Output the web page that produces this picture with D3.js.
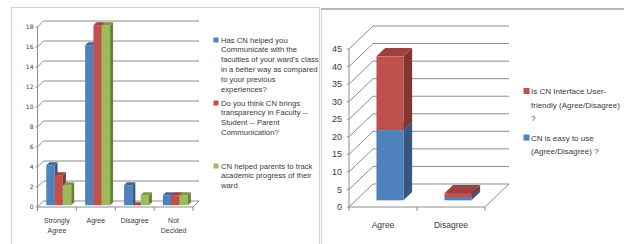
<!DOCTYPE html>
<html>
<head>
<meta charset="utf-8">
<script src="https://cdn.jsdelivr.net/npm/d3@7"></script>
<style>
  body { margin: 0; background: #fff; }
  svg { display: block; }
</style>
</head>
<body>
<div class="wrapper"></div>
<script>
const w = 624
const h = 244

// left chart data
const cats1 = ["Strongly Agree", "Agree", "Disagree", "Not Decided"]
const catLines1 = [["Strongly", "Agree"], ["Agree"], ["Disagree"], ["Not", "Decided"]]
const communicate = [4, 16, 2, 1]
const transparency = [3, 18, 0, 1]
const progress = [2, 18, 1, 1]
const ticks1 = [0, 2, 4, 6, 8, 10, 12, 14, 16, 18]
const legend1 = [
  ["Has CN helped you", "Communicate with the", "faculties of your ward's class", "in a better way as compared", "to your previous", "experiences?"],
  ["Do you think CN brings", "transparency in Faculty --", "Student -- Parent", "Communication?"],
  ["CN helped parents to track", "academic progress of their", "ward"]
]

// right chart data
const cats2 = ["Agree", "Disagree"]
const easyToUse = [20, 1]
const userFriendly = [21, 1]
const ticks2 = [0, 5, 10, 15, 20, 25, 30, 35, 40, 45]
const legend2 = [
  ["Is CN Interface User-", "friendly (Agree/Disagree)", "?"],
  ["CN is easy to use", "(Agree/Disagree) ?"]
]

const colors = ["#4f81bd", "#c0504d", "#9bbb59"]
const gridColor = "#8c8c8c"
const textColor = "#3a3a3a"
const font = "Liberation Sans, Arial, sans-serif"

const svg = d3.select(".wrapper")
  .append("svg")
  .attr("width", w)
  .attr("height", h)

// panel frames
svg.append("rect").attr("x", 11.5).attr("y", 7.5).attr("width", 308).attr("height", 260)
  .attr("fill", "none").attr("stroke", "#d4d4d4")
svg.append("rect").attr("x", 321.5).attr("y", 9).attr("width", 320).attr("height", 260)
  .attr("fill", "none").attr("stroke", "#d4d4d4")
svg.append("line").attr("x1", 321).attr("x2", 624).attr("y1", 9).attr("y2", 9)
  .attr("stroke", "#a6a6a6").attr("stroke-width", 1.5)

// draws walls, floor, ticks for a fake-3D Excel style chart
function drawFrame(g, x, y, ticks, dx, dy, tickFont, tickSize, labelGap) {
  const x0 = x.range()[0], x1 = x.range()[1]
  const y0 = y(0)
  ticks.forEach((t) => {
    const yy = y(t)
    g.append("polyline")
      .attr("points", [[x0, yy], [x0 + dx, yy - dy], [x1 + dx, yy - dy]].join(" "))
      .attr("fill", "none").attr("stroke", gridColor).attr("stroke-width", 1)
    g.append("line").attr("x1", x0 - 2).attr("x2", x0).attr("y1", yy).attr("y2", yy)
      .attr("stroke", gridColor)
    g.append("text").attr("x", x0 - labelGap).attr("y", yy).attr("dy", "0.35em")
      .attr("text-anchor", "end").attr("font-family", tickFont).attr("font-size", tickSize)
      .attr("fill", textColor).text(t)
  })
  // floor
  g.append("polyline")
    .attr("points", [[x0, y0], [x1, y0], [x1 + dx, y0 - dy]].join(" "))
    .attr("fill", "none").attr("stroke", gridColor)
  // vertical axis
  g.append("line").attr("x1", x0).attr("x2", x0).attr("y1", y0).attr("y2", y(ticks[ticks.length - 1]))
    .attr("stroke", gridColor)
  // category ticks
  const bounds = x.domain().map((c) => x(c)).concat([x1])
  bounds.forEach((b) => {
    g.append("line").attr("x1", b).attr("x2", b).attr("y1", y0).attr("y2", y0 + 4)
      .attr("stroke", gridColor)
  })
}

function shade(c, k) {
  return d3.color(c).darker(k).formatHex()
}

// one 3D box: front x range [bx, bx+bw], values v0..v1, depth fractions f0..f1
function drawBox(g, y, bx, bw, v0, v1, f0, f1, dx, dy, color) {
  const P = (xx, v, f) => [xx + f * dx, y(v) - f * dy]
  const side = [P(bx + bw, v0, f0), P(bx + bw, v1, f0), P(bx + bw, v1, f1), P(bx + bw, v0, f1)]
  const top = [P(bx, v1, f0), P(bx + bw, v1, f0), P(bx + bw, v1, f1), P(bx, v1, f1)]
  const a = P(bx, v1, f0), b = P(bx + bw, v0, f0)
  g.append("polygon").attr("points", side.join(" ")).attr("fill", shade(color, 1.1))
  g.append("polygon").attr("points", top.join(" ")).attr("fill", shade(color, 0.6))
  g.append("rect").attr("x", a[0]).attr("y", a[1]).attr("width", b[0] - a[0]).attr("height", b[1] - a[1])
    .attr("fill", color)
}

// ---- left chart ----
const g1 = svg.append("g")
const x1 = d3.scaleBand().domain(cats1).range([37.5, 193])
const y1 = d3.scaleLinear().domain([0, 18]).range([207, 27])
const dx1 = 6, dy1 = 6
drawFrame(g1, x1, y1, ticks1, dx1, dy1, "DejaVu Sans", 6, 4)

const series1 = [communicate, transparency, progress]
const bw1 = 8.3
cats1.forEach((c, i) => {
  const start = x1(c) + x1.bandwidth() / 2 - bw1 * 1.5
  series1.forEach((s, k) => {
    drawBox(g1, y1, start + k * bw1, bw1, 0, s[i], 0.3, 0.8, dx1, dy1, colors[k])
  })
})

cats1.forEach((c, i) => {
  const t = g1.append("text").attr("text-anchor", "middle")
    .attr("font-family", font).attr("font-size", 7)
    .attr("fill", textColor)
  catLines1[i].forEach((line, j) => {
    t.append("tspan").attr("x", x1(c) + x1.bandwidth() / 2).attr("y", 222.5 + j * 10).text(line)
  })
})

const legStarts1 = [40, 103, 166]
legend1.forEach((lines, k) => {
  g1.append("rect").attr("x", 213.5).attr("y", legStarts1[k] - 2.5).attr("width", 5).attr("height", 5)
    .attr("fill", colors[k])
  const t = g1.append("text").attr("font-family", font)
    .attr("font-size", 7.7).attr("fill", textColor)
  lines.forEach((line, j) => {
    t.append("tspan").attr("x", 221).attr("y", legStarts1[k] + 2.6 + j * 9.8).text(line)
  })
})

// ---- right chart ----
const g2 = svg.append("g")
const x2 = d3.scaleBand().domain(cats2).range([349, 485])
const y2 = d3.scaleLinear().domain([0, 45]).range([207, 49])
const dx2 = 24, dy2 = 23
drawFrame(g2, x2, y2, ticks2, dx2, dy2, font, 9, 7)

const bw2 = 27
cats2.forEach((c, i) => {
  const bx = x2(c) + x2.bandwidth() / 2 - bw2 / 2
  drawBox(g2, y2, bx, bw2, 0, easyToUse[i], 0.29, 0.65, dx2, dy2, colors[0])
  drawBox(g2, y2, bx, bw2, easyToUse[i], easyToUse[i] + userFriendly[i], 0.29, 0.65, dx2, dy2, colors[1])
})

cats2.forEach((c) => {
  g2.append("text").attr("x", x2(c) + x2.bandwidth() / 2).attr("y", 228)
    .attr("text-anchor", "middle").attr("font-family", font)
    .attr("font-size", 8.5).attr("fill", textColor).text(c)
})

const legStarts2 = [91, 137.5]
const legColors2 = [colors[1], colors[0]]
legend2.forEach((lines, k) => {
  g2.append("rect").attr("x", 523.5).attr("y", legStarts2[k] - 3).attr("width", 6).attr("height", 6)
    .attr("fill", legColors2[k])
  const t = g2.append("text").attr("font-family", font)
    .attr("font-size", 8).attr("fill", textColor)
  lines.forEach((line, j) => {
    t.append("tspan").attr("x", 531).attr("y", legStarts2[k] + 3 + j * 13.5).text(line)
  })
})
</script>
</body>
</html>
